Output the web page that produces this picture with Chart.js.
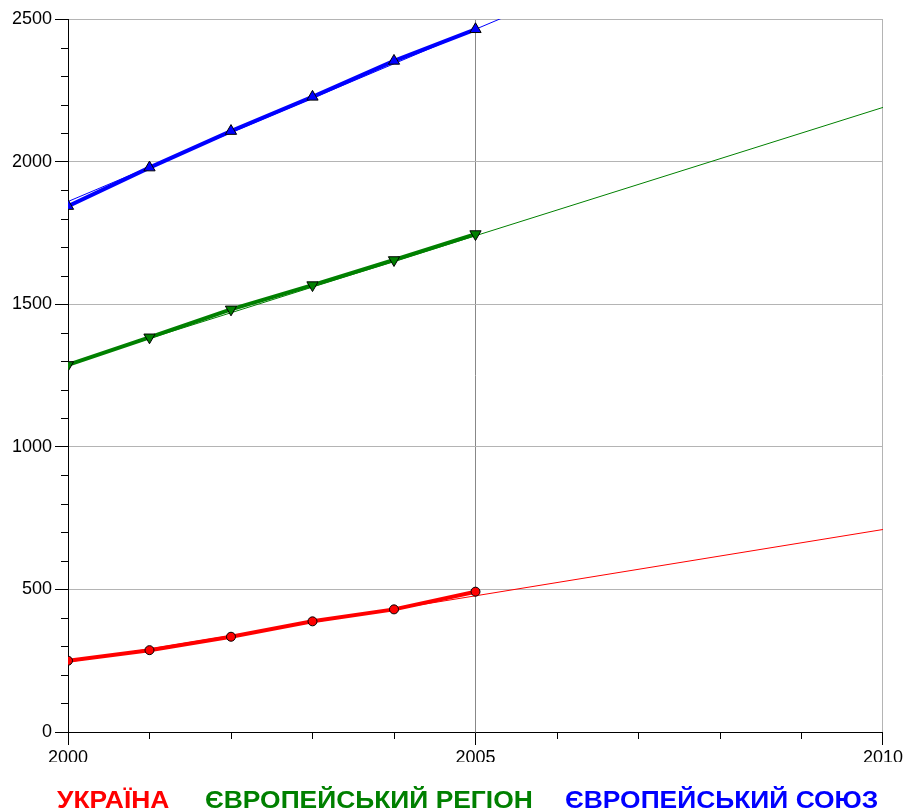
<!DOCTYPE html>
<html>
<head>
<meta charset="utf-8">
<script src="https://cdn.jsdelivr.net/npm/chart.js@4"></script>
<style>
  html, body { margin: 0; padding: 0; background: #fff; }
  #wrap { position: relative; width: 905px; height: 810px; }
  #legend span {
    position: absolute; top: 786px; line-height: 24px;
    font: bold 24px "Liberation Sans", Arial, sans-serif; white-space: nowrap;
    transform: scaleX(1.10); transform-origin: 0 0;
  }
</style>
</head>
<body>
<div id="wrap">
  <canvas id="myChart" width="905" height="810"></canvas>
  <div id="legend"></div>
</div>
<script>
// data
const years = [2000, 2001, 2002, 2003, 2004, 2005];
const ukraine = [250, 287, 334, 388, 430, 492];
const euroRegion = [1287, 1384, 1482, 1567, 1655, 1746];
const euroUnion = [1844, 1979, 2107, 2227, 2353, 2464];

// trend lines (start / end years)
const trendYears = [2000, 2010];
const ukraineTrend = [245, 710];
const regionTrend = [1290, 2190];
const unionTrend = [1860, 3068];

const seriesNames = ['УКРАЇНА', 'ЄВРОПЕЙСЬКИЙ РЕГІОН', 'ЄВРОПЕЙСЬКИЙ СОЮЗ'];
const seriesColors = ['#ff0000', '#008000', '#0000ff'];
const legendLeft = [57, 205, 565];

const xTicks = [2000, 2005, 2010];
const yTicks = [0, 500, 1000, 1500, 2000, 2500];

function pts(xs, ys) {
    return xs.map((x, i) => ({ x: x, y: ys[i] }));
}

// short minor ticks (every 100 on y, every year on x)
const minorTicks = {
    id: 'minorTicks',
    afterDraw(chart) {
        const c = chart.ctx;
        const xs = chart.scales.x, ys = chart.scales.y;
        c.save();
        c.strokeStyle = '#000';
        c.lineWidth = 1;
        c.beginPath();
        ys.ticks.forEach(t => {
            if (t.value % 500 !== 0) {
                const y = Math.round(ys.getPixelForValue(t.value)) + 0.5;
                c.moveTo(xs.left - 7, y);
                c.lineTo(xs.left, y);
            }
        });
        xs.ticks.forEach(t => {
            if (t.value % 5 !== 0) {
                const x = Math.round(xs.getPixelForValue(t.value)) + 0.5;
                c.moveTo(x, ys.bottom);
                c.lineTo(x, ys.bottom + 7);
            }
        });
        c.stroke();
        c.restore();
    }
};

const mainLine = (label, values, color, style, rot, r) => ({
    label: label,
    data: pts(years, values),
    borderColor: color,
    backgroundColor: color,
    borderWidth: 4,
    pointStyle: style,
    rotation: rot,
    pointRadius: r,
    pointBorderColor: '#000',
    pointBorderWidth: 1,
    pointBackgroundColor: color,
    tension: 0
});

const trendLine = (values, color) => ({
    label: 'trend',
    data: pts(trendYears, values),
    borderColor: color,
    borderWidth: 1,
    pointRadius: 0,
    tension: 0
});

const ctx = document.getElementById('myChart').getContext('2d');
const myChart = new Chart(ctx, {
    type: 'line',
    data: {
        datasets: [
            mainLine(seriesNames[0], ukraine, seriesColors[0], 'circle', 0, 4.5),
            mainLine(seriesNames[1], euroRegion, seriesColors[1], 'triangle', 180, 6.5),
            mainLine(seriesNames[2], euroUnion, seriesColors[2], 'triangle', 0, 6.5),
            trendLine(ukraineTrend, seriesColors[0]),
            trendLine(regionTrend, seriesColors[1]),
            trendLine(unionTrend, seriesColors[2])
        ]
    },
    options: {
        responsive: false,
        animation: false,
        layout: { padding: { left: 0, right: 22, top: 19, bottom: 48 } },
        scales: {
            x: {
                type: 'linear',
                min: 2000,
                max: 2010,
                afterFit: s => { s.height = 30; },
                ticks: {
                    stepSize: 1,
                    autoSkip: false,
                    maxRotation: 0,
                    padding: 2,
                    color: '#000',
                    font: { family: 'Liberation Sans, Arial', size: 18 },
                    callback: v => xTicks.includes(v) ? String(v) : ''
                },
                grid: {
                    tickLength: 13,
                    color: c => c.tick && c.tick.value === 2005 ? '#888' : (c.tick && c.tick.value === 2010 ? '#b4b4b4' : 'rgba(0,0,0,0)'),
                    tickColor: c => c.tick && c.tick.value % 5 === 0 ? '#000' : 'rgba(0,0,0,0)'
                },
                border: { color: '#000', width: 1 }
            },
            y: {
                min: 0,
                max: 2500,
                afterFit: s => { s.width = 68; },
                ticks: {
                    stepSize: 100,
                    autoSkip: false,
                    padding: 3,
                    color: '#000',
                    font: { family: 'Liberation Sans, Arial', size: 18 },
                    callback: v => yTicks.includes(v) ? String(v) : ''
                },
                grid: {
                    tickLength: 13,
                    color: c => c.tick && c.tick.value % 500 === 0 && c.tick.value > 0 ? '#b4b4b4' : 'rgba(0,0,0,0)',
                    tickColor: c => c.tick && c.tick.value % 500 === 0 ? '#000' : 'rgba(0,0,0,0)'
                },
                border: { color: '#000', width: 1 }
            }
        },
        plugins: {
            legend: { display: false },
            tooltip: { enabled: false }
        }
    },
    plugins: [minorTicks]
});

// legend below the plot
const legend = document.getElementById('legend');
seriesNames.forEach((name, i) => {
    const s = document.createElement('span');
    s.textContent = name;
    s.style.color = seriesColors[i];
    s.style.left = legendLeft[i] + 'px';
    legend.appendChild(s);
});
</script>
</body>
</html>
